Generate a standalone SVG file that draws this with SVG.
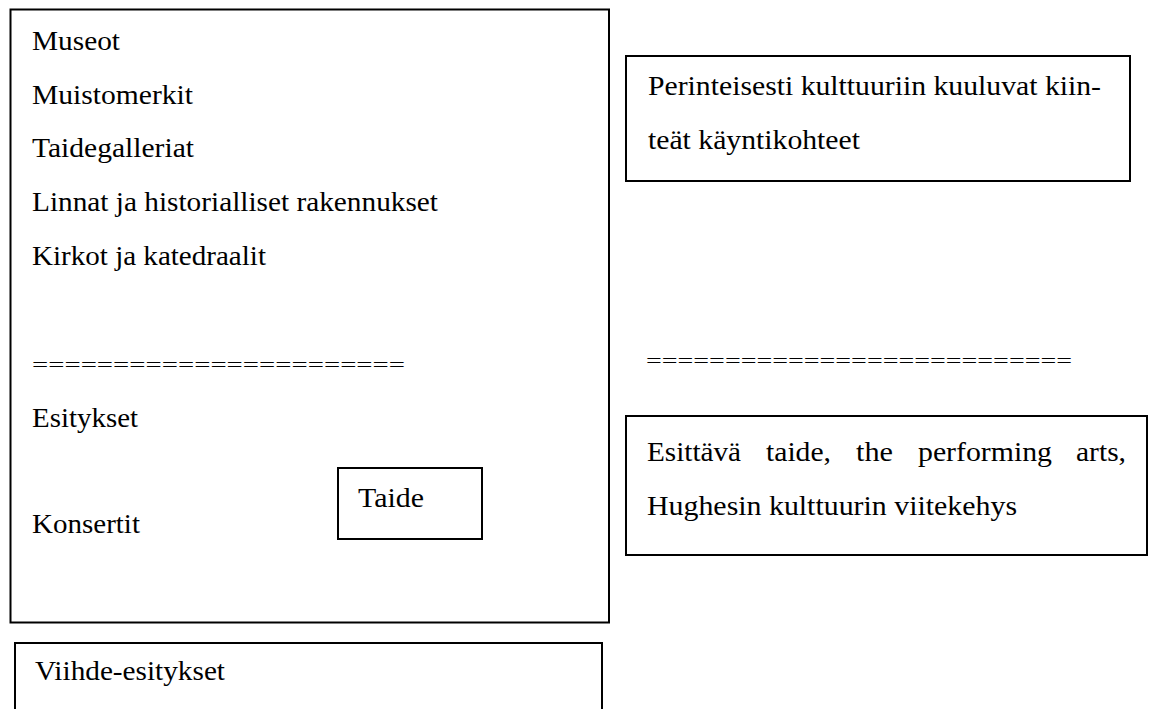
<svg xmlns="http://www.w3.org/2000/svg" width="1163" height="709" viewBox="0 0 1163 709">
<style>
.box{fill:#fff;stroke:#000;stroke-width:2}
.t{font-family:"Liberation Serif",serif;font-size:27px;fill:#000}
.eq{font-family:"Liberation Serif",serif;font-size:18px;fill:#000}
</style>
<rect width="1163" height="709" fill="#fff"/>
<g id="main">
<rect class="box" x="10.5" y="9.5" width="598.5" height="613"/>
<text class="t" x="32" y="50" textLength="88" lengthAdjust="spacingAndGlyphs">Museot</text>
<text class="t" x="32" y="104" textLength="161" lengthAdjust="spacingAndGlyphs">Muistomerkit</text>
<text class="t" x="32" y="157" textLength="162" lengthAdjust="spacingAndGlyphs">Taidegalleriat</text>
<text class="t" x="32" y="211" textLength="406" lengthAdjust="spacingAndGlyphs">Linnat ja historialliset rakennukset</text>
<text class="t" x="32" y="265" textLength="234" lengthAdjust="spacingAndGlyphs">Kirkot ja katedraalit</text>
<text class="eq" x="32" y="371" textLength="373" lengthAdjust="spacingAndGlyphs">=======================</text>
<text class="t" x="32" y="427" textLength="106" lengthAdjust="spacingAndGlyphs">Esitykset</text>
<text class="t" x="32" y="533" textLength="108" lengthAdjust="spacingAndGlyphs">Konsertit</text>
</g>
<g id="taide">
<rect class="box" x="338" y="468" width="144" height="71"/>
<text class="t" x="358" y="507" textLength="66" lengthAdjust="spacingAndGlyphs">Taide</text>
</g>
<g id="viihde">
<rect class="box" x="15" y="643" width="587" height="80"/>
<text class="t" x="35" y="680" textLength="190" lengthAdjust="spacingAndGlyphs">Viihde-esitykset</text>
</g>
<g id="perinteisesti">
<rect class="box" x="626" y="56" width="504" height="125"/>
<text class="t" x="648" y="95" textLength="453" lengthAdjust="spacingAndGlyphs">Perinteisesti kulttuuriin kuuluvat kiin-</text>
<text class="t" x="648" y="149" textLength="212" lengthAdjust="spacingAndGlyphs">teät käyntikohteet</text>
</g>
<text class="eq" x="646" y="367" textLength="426" lengthAdjust="spacingAndGlyphs">===========================</text>
<g id="esittava">
<rect class="box" x="626" y="416" width="521" height="139"/>
<text class="t" x="647" y="461" textLength="94" lengthAdjust="spacingAndGlyphs">Esittävä</text>
<text class="t" x="766" y="461" textLength="65" lengthAdjust="spacingAndGlyphs">taide,</text>
<text class="t" x="856" y="461" textLength="37" lengthAdjust="spacingAndGlyphs">the</text>
<text class="t" x="918" y="461" textLength="134" lengthAdjust="spacingAndGlyphs">performing</text>
<text class="t" x="1076" y="461" textLength="50" lengthAdjust="spacingAndGlyphs">arts,</text>
<text class="t" x="647" y="515" textLength="370" lengthAdjust="spacingAndGlyphs">Hughesin kulttuurin viitekehys</text>
</g>
<g id="connectors"/>
</svg>
